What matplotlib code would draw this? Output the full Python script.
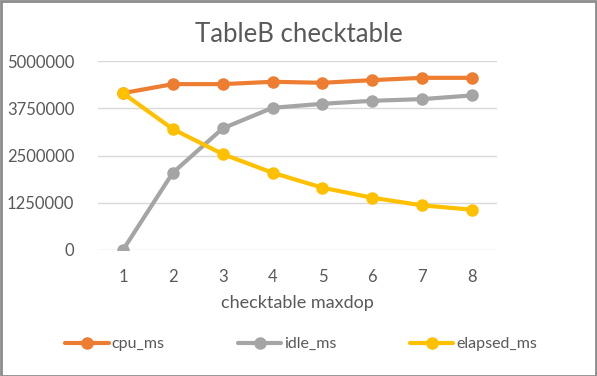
import matplotlib
matplotlib.use("Agg")
import matplotlib.pyplot as plt
from matplotlib.patches import Rectangle

# data
maxdop = [1, 2, 3, 4, 5, 6, 7, 8]
cpu_ms = [4150000, 4388000, 4388000, 4450000, 4423000, 4494000, 4555000, 4555000]
idle_ms = [0, 2043000, 3217000, 3762000, 3868000, 3947000, 3992000, 4089000]
elapsed_ms = [4150000, 3199000, 2538000, 2044000, 1648000, 1383000, 1181000, 1066000]
y_ticks = [0, 1250000, 2500000, 3750000, 5000000]

TEXT = "#595959"
plt.rcParams["font.family"] = ["Lato", "DejaVu Sans"]

fig = plt.figure(figsize=(5.97, 3.76), dpi=100)
ax = fig.add_axes([98 / 597, 1 - 250 / 376, 399 / 597, 189 / 376])

x = list(range(len(maxdop)))
for vals, col, name in [(cpu_ms, "#ED7D31", "cpu_ms"),
                        (idle_ms, "#A5A5A5", "idle_ms"),
                        (elapsed_ms, "#FFC000", "elapsed_ms")]:
    ax.plot(x, vals, color=col, lw=3, marker="o", ms=8, label=name,
            solid_capstyle="round")

ax.set_xlim(-0.5, len(maxdop) - 0.5)
ax.set_ylim(0, 5000000)
ax.set_yticks(y_ticks)
ax.set_yticklabels([str(v) for v in y_ticks])
ax.set_xticks(x)
ax.set_xticklabels([str(m) for m in maxdop])
ax.grid(axis="y", color="#D9D9D9", lw=1)
ax.set_axisbelow(True)
for s in ax.spines.values():
    s.set_visible(False)
ax.tick_params(length=0, labelsize=12, colors=TEXT)
ax.tick_params(axis="x", pad=14)
ax.tick_params(axis="y", pad=17)
ax.set_xlabel("checktable maxdop", fontsize=13, color=TEXT, labelpad=7)

fig.text(0.5, 1 - 35 / 376, "TableB checktable", ha="center", va="center",
         fontsize=18.5, color=TEXT)

leg = fig.legend(loc="center", bbox_to_anchor=(0.505, 1 - 344 / 376), ncol=3,
                 frameon=False, fontsize=11.5, handlelength=2.7,
                 columnspacing=4.6, handletextpad=0.2)
for t in leg.get_texts():
    t.set_color(TEXT)

fig.patches.append(Rectangle((0.5 / 597, 0.5 / 376), 1 - 1.5 / 597, 1 - 1.5 / 376,
                             transform=fig.transFigure, fill=False,
                             edgecolor="#8C8C8C", lw=2))

fig.savefig("out.png", dpi=100)
